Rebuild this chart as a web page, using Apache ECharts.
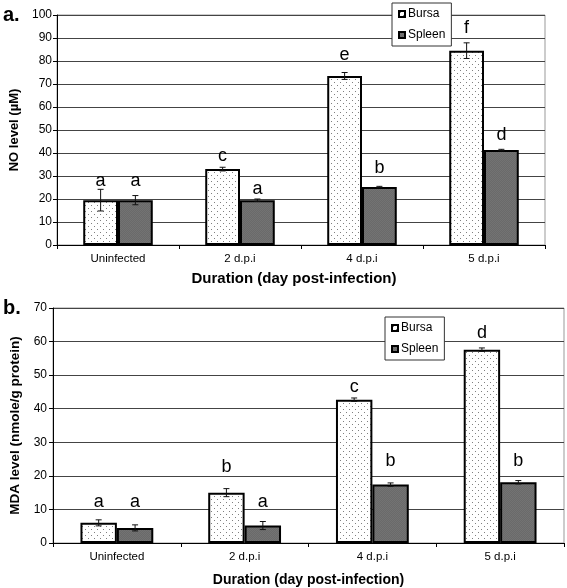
<!DOCTYPE html>
<html><head><meta charset="utf-8">
<script src="https://cdn.jsdelivr.net/npm/echarts@6/dist/echarts.min.js"></script>
<style>html,body{margin:0;padding:0;background:#fff}#c{width:567px;height:588px}</style>
</head><body><div id="c"></div>
<script>
// ---- Data ----
const categories = ['Uninfected', '2 d.p.i', '4 d.p.i', '5 d.p.i'];
const seriesNames = ['Bursa', 'Spleen'];

// Panel a: NO level (µM)
const noTicks = [0, 10, 20, 30, 40, 50, 60, 70, 80, 90, 100];
const noBursa = [19.5, 33, 73.5, 84.5];
const noBursaErr = [4.7, 0.8, 1.5, 3.4];
const noSpleen = [19.5, 19.5, 25.2, 41.3];
const noSpleenErr = [2.0, 0.5, 0.3, 0.3];
const noBursaLetters = ['a', 'c', 'e', 'f'];
const noSpleenLetters = ['a', 'a', 'b', 'd'];
const noBursaLetterAt = [25.3, 36.2, 80.1, 91.7];
const noSpleenLetterAt = [25.3, 21.7, 30.9, 45.1];

// Panel b: MDA level (nmole/g protein)
const mdaTicks = [0, 10, 20, 30, 40, 50, 60, 70];
const mdaBursa = [6.0, 15.0, 42.7, 57.6];
const mdaBursaErr = [0.9, 1.2, 0.5, 0.5];
const mdaSpleen = [4.5, 5.2, 17.4, 18.1];
const mdaSpleenErr = [0.9, 1.2, 0.5, 0.5];
const mdaBursaLetters = ['a', 'b', 'c', 'd'];
const mdaSpleenLetters = ['a', 'a', 'b', 'b'];
const mdaBursaLetterAt = [10.4, 20.8, 44.8, 60.8];
const mdaSpleenLetterAt = [10.4, 10.4, 22.7, 22.7];

// ---- Styles ----
const FONT = 'Liberation Sans, Arial, sans-serif';
const CAT_GAP = 0.43;

function dotPattern() {
  const c = document.createElement('canvas');
  c.width = 6; c.height = 6;
  const g = c.getContext('2d');
  g.fillStyle = '#ffffff'; g.fillRect(0, 0, 6, 6);
  g.fillStyle = '#808080';
  g.fillRect(1, 1, 1, 1);
  g.fillRect(4, 4, 1, 1);
  return { image: c, repeat: 'repeat' };
}
function darkPattern() {
  const c = document.createElement('canvas');
  c.width = 2; c.height = 2;
  const g = c.getContext('2d');
  g.fillStyle = '#6a6a6a'; g.fillRect(0, 0, 2, 2);
  g.fillStyle = '#737373'; g.fillRect(0, 0, 1, 1); g.fillRect(1, 1, 1, 1);
  return { image: c, repeat: 'repeat' };
}
const bursaFill = dotPattern();
const spleenFill = darkPattern();

function barSeries(name, data, idx) {
  return {
    name: name, type: 'bar', xAxisIndex: idx, yAxisIndex: idx,
    data: data, barGap: '0%', barCategoryGap: (CAT_GAP * 100) + '%',
    itemStyle: { color: name === 'Bursa' ? bursaFill : spleenFill, borderColor: '#000', borderWidth: 2 },
    emphasis: { disabled: true }, z: 2
  };
}

function errSeries(values, errs, letters, letterAt, side, idx) {
  return {
    type: 'custom', xAxisIndex: idx, yAxisIndex: idx, z: 5, silent: true,
    data: values.map((v, i) => [i, v, errs[i], letterAt[i]]),
    renderItem: function (params, api) {
      const i = api.value(0), v = api.value(1), e = api.value(2), la = api.value(3);
      const band = api.size([1, 0])[0];
      const bw = band * (1 - CAT_GAP) / 2;
      const x = api.coord([i, v])[0] + side * bw / 2;
      const yT = api.coord([i, v + e])[1];
      const yB = api.coord([i, v - e])[1];
      const yL = api.coord([i, la])[1];
      const st = { stroke: '#111', lineWidth: 1 };
      return {
        type: 'group', children: [
          { type: 'line', shape: { x1: x, y1: yT, x2: x, y2: yB }, style: st },
          { type: 'line', shape: { x1: x - 3, y1: yT, x2: x + 3, y2: yT }, style: st },
          { type: 'line', shape: { x1: x - 3, y1: yB, x2: x + 3, y2: yB }, style: st },
          { type: 'text', x: x, y: yL - 6, style: { text: letters[params.dataIndex], fill: '#000', font: '18px ' + FONT, align: 'center', verticalAlign: 'middle' } }
        ]
      };
    }
  };
}

function yAxis(idx, max, name, gap, nameSize, labelMargin) {
  return {
    gridIndex: idx, type: 'value', min: 0, max: max, interval: 10,
    name: name, nameLocation: 'middle', nameGap: gap,
    nameTextStyle: { fontFamily: FONT, fontWeight: 'bold', fontSize: nameSize, color: '#000' },
    axisLine: { show: true, lineStyle: { color: '#000', width: 1 } },
    axisTick: { show: true, length: 4, lineStyle: { color: '#000' } },
    axisLabel: { fontFamily: FONT, fontSize: 12, color: '#000', margin: labelMargin },
    splitLine: { show: true, lineStyle: { color: '#444', width: 1 } }
  };
}
function xAxis(idx, nameGap, nameSize, pad) {
  return {
    gridIndex: idx, type: 'category', data: categories,
    name: 'Duration (day post-infection)', nameLocation: 'middle', nameGap: nameGap,
    nameTextStyle: { fontFamily: FONT, fontWeight: 'bold', fontSize: nameSize, color: '#000', padding: pad },
    axisLine: { show: true, lineStyle: { color: '#000', width: 1 } },
    axisTick: { show: true, length: 4, lineStyle: { color: '#000' } },
    axisLabel: { fontFamily: FONT, fontSize: 11.5, color: '#000', margin: 8 },
    splitLine: { show: false }
  };
}
function legend(left, top) {
  return {
    orient: 'vertical', left: left, top: top, data: seriesNames,
    backgroundColor: '#fff', borderColor: '#333', borderWidth: 1, borderRadius: 0,
    padding: [5, 6, 5, 6], itemGap: 9, itemWidth: 6, itemHeight: 6, icon: 'rect',
    textStyle: { fontFamily: FONT, fontSize: 12, color: '#000', padding: [0, 0, 0, -2] },
    selectedMode: false
  };
}

const chart = echarts.init(document.getElementById('c'), null, { renderer: 'canvas' });
chart.setOption({
  animation: false,
  backgroundColor: '#fff',
  grid: [
    { left: 54, top: 15, width: 491, height: 230, show: true, borderColor: '#999', borderWidth: 1, backgroundColor: 'transparent' },
    { left: 53, top: 308, width: 511, height: 235, show: true, borderColor: '#999', borderWidth: 1, backgroundColor: 'transparent' }
  ],
  title: [
    { text: 'a.', left: 3, top: 5, textStyle: { fontFamily: FONT, fontWeight: 'bold', fontSize: 20, color: '#000' }, padding: 0 },
    { text: 'b.', left: 3, top: 298, textStyle: { fontFamily: FONT, fontWeight: 'bold', fontSize: 20, color: '#000' }, padding: 0 }
  ],
  legend: [legend(392, 3), legend(385, 317)],
  xAxis: [xAxis(0, 26, 15, [0, 14, 0, 0]), xAxis(1, 30, 14, 0)],
  yAxis: [yAxis(0, 100, 'NO level (µM)', 36, 13, 5), yAxis(1, 70, 'MDA level (nmole/g protein)', 28, 13.5, 6)],
  series: [
    barSeries('Bursa', noBursa, 0),
    barSeries('Spleen', noSpleen, 0),
    errSeries(noBursa, noBursaErr, noBursaLetters, noBursaLetterAt, -1, 0),
    errSeries(noSpleen, noSpleenErr, noSpleenLetters, noSpleenLetterAt, 1, 0),
    barSeries('Bursa', mdaBursa, 1),
    barSeries('Spleen', mdaSpleen, 1),
    errSeries(mdaBursa, mdaBursaErr, mdaBursaLetters, mdaBursaLetterAt, -1, 1),
    errSeries(mdaSpleen, mdaSpleenErr, mdaSpleenLetters, mdaSpleenLetterAt, 1, 1)
  ]
});
</script>
</body></html>
